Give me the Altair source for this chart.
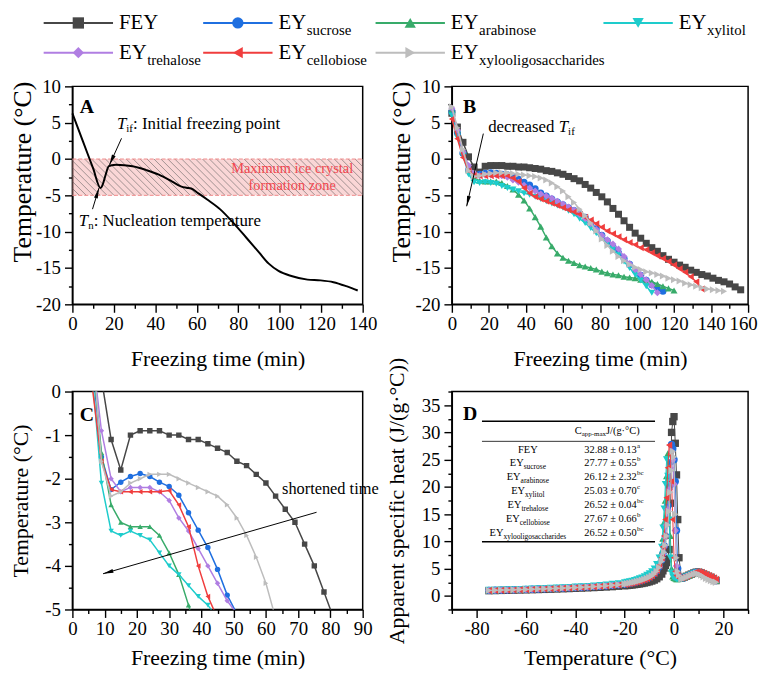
import math
import altair as alt
import pandas as pd

FONT = "Liberation Serif"

# ---------------- series identity ----------------
SERIES = ["FEY", "sucrose", "arabinose", "xylitol", "trehalose", "cellobiose", "xylooligosaccharides"]
COLORS = ["#474747", "#1f6fe0", "#38ab6a", "#1ecccc", "#b07ee2", "#f03d3d", "#bdbdbd"]
SHAPES = ["square", "circle", "triangle-up", "triangle-down", "diamond", "triangle-left", "triangle-right"]

# ---------------- panel A : FEY freezing curve ----------------
A_TIME = [0, 5, 10, 13.6, 14.5, 16, 17.5, 19, 21, 25, 29, 32, 35.4, 41.7, 47.9, 52.6, 55, 57.3,
          60.4, 65, 71.3, 77.5, 83.8, 90, 94.7, 99.4, 105.6, 113.4, 119.7, 125.9, 132.1, 137.6]
A_TEMP = [6.27, 2.5, -1.3, -4.0, -3.6, -2.2, -1.0, -0.85, -0.8, -0.85, -1.0, -1.2, -1.5, -2.15, -3.06, -3.8,
          -3.95, -4.06, -4.66, -5.57, -6.93, -8.75, -10.8, -12.85, -14.4, -15.4, -16.1, -16.6, -16.7,
          -16.95, -17.5, -18.1]

# ---------------- panels B / C : freezing curves (min, degC) ----------------
TIME = [0, 3, 6, 9, 12, 15, 18, 21, 24, 27, 30, 33, 36, 39, 42, 45, 48, 51, 54, 57, 60, 63, 66, 69,
        72, 75, 78, 81, 84, 87, 90, 93, 96, 99, 102, 105, 108, 111, 114, 117, 120, 123, 126, 129,
        132, 135, 138, 141, 144, 147, 150, 153, 156]
B_FEY = [6.3, 4.4, 2.3, 0.3, -1.1, -1.8, -1.0, -0.9, -0.9, -0.9,
         -1.0, -1.0, -1.1, -1.1, -1.2, -1.3, -1.4, -1.6, -1.7, -1.9,
         -2.1, -2.4, -2.7, -3.0, -3.5, -4.0, -4.6, -5.2, -5.9, -6.8,
         -7.6, -8.5, -9.4, -10.2, -10.9, -11.6, -12.2, -12.7, -13.3, -13.8,
         -14.2, -14.6, -14.9, -15.3, -15.6, -15.9, -16.1, -16.4, -16.7, -16.9,
         -17.2, -17.6, -18.0]
B_SUC = [6.5, 3.6, 0.8, -1.5, -2.25, -2.08, -1.95, -1.88, -1.95, -2.08,
         -2.18, -2.38, -2.78, -3.18, -3.58, -4.08, -4.67, -5.1, -5.5, -5.9,
         -6.3, -6.7, -7.1, -7.5, -8.0, -8.7, -9.6, -10.5, -11.3, -12.1,
         -12.9, -13.7, -14.5, -15.3, -16.0, -16.7, -17.3, -17.8, -18.2]
B_ARA = [6.8, 4.0, 1.0, -1.4, -2.6, -3.0, -3.1, -3.1, -3.1, -3.3,
         -3.7, -4.2, -4.9, -5.7, -6.8, -8.0, -9.3, -10.8, -12.0, -13.0,
         -13.6, -14.0, -14.3, -14.6, -14.8, -15.0, -15.2, -15.5, -15.7, -15.9,
         -16.0, -16.2, -16.3, -16.4, -16.6, -16.7, -16.9, -17.2, -17.5, -17.8,
         -18.1]
B_XYL = [6.0, 3.0, 0.5, -2.1, -3.2, -3.3, -3.2, -3.3, -3.4, -3.7,
         -4.0, -4.2, -4.45, -4.7, -4.9, -5.2, -5.5, -5.8, -6.1, -6.4,
         -6.7, -7.1, -7.6, -8.2, -8.8, -9.5, -10.2, -10.9, -11.6, -12.4,
         -13.2, -14.1, -15.0, -15.9, -16.7, -17.5, -18.4]
B_TRE = [7.0, 4.0, 1.0, -0.9, -2.0, -2.3, -2.2, -2.2, -2.2, -2.3,
         -2.5, -2.9, -3.2, -3.6, -4.0, -4.4, -4.8, -5.1, -5.4, -5.8,
         -6.2, -6.6, -7.0, -7.6, -8.2, -8.9, -9.7, -10.5, -11.1, -11.7,
         -12.4, -13.4, -14.4, -15.2, -15.9, -16.6, -17.4, -18.4]
B_CEL = [5.5, 2.8, 0.2, -1.6, -2.25, -2.3, -2.3, -2.3, -2.3, -2.3,
         -2.27, -2.6, -3.1, -4.0, -4.7, -5.2, -5.5, -5.8, -6.1, -6.4,
         -6.7, -7.0, -7.3, -7.6, -8.0, -8.4, -8.9, -9.4, -9.9, -10.3,
         -10.7, -11.1, -11.5, -11.8, -12.2, -12.5, -12.9, -13.3, -13.7, -14.1,
         -14.6, -15.1, -15.6, -16.2, -16.9, -17.9]
B_XOS = [7.2, 4.3, 1.3, -1.6, -2.4, -2.3, -2.1, -2.0, -1.9, -1.9,
         -1.9, -2.0, -2.1, -2.2, -2.3, -2.4, -2.6, -2.9, -3.3, -3.8,
         -4.4, -5.2, -6.0, -6.9, -7.8, -8.8, -9.9, -11.0, -11.9, -12.7,
         -13.4, -14.0, -14.5, -14.9, -15.2, -15.5, -15.7, -15.9, -16.1, -16.4,
         -16.6, -16.8, -17.1, -17.3, -17.5, -17.7, -17.9, -18.0, -18.1, -18.2]
B_VALUES = [B_FEY, B_SUC, B_ARA, B_XYL, B_TRE, B_CEL, B_XOS]

# ---------------- panel D : apparent specific heat ----------------
D_TEMP = [-75, -72.5, -70, -67.5, -65, -62.5, -60, -57.5, -55, -52.5, -50, -47.5, -45, -42.5, -40,
          -37.5, -35, -32.5, -30, -27.5, -25, -22.5, -20,
          -19, -18, -17, -16, -15, -14, -13, -12, -11, -10, -9, -8, -7, -6, -5,
          -4.5, -4, -3.5, -3, -2.5, -2, -1.5, -1, -0.5, 0, 0.5, 1, 1.5, 2,
          3, 4, 5, 6, 7, 8, 9, 10, 11, 12, 13, 14, 15, 16, 17]
D_FEY = [0.95, 0.97, 1.0, 1.02, 1.05, 1.08, 1.1, 1.13, 1.16, 1.19, 1.22, 1.26, 1.3, 1.34, 1.38, 1.42,
         1.47, 1.52, 1.57, 1.63, 1.69, 1.77, 1.86,
         1.9, 1.95, 2.0, 2.06, 2.12, 2.19, 2.27, 2.36, 2.46, 2.58, 2.72, 2.9, 3.15, 3.5, 4.0,
         4.6, 5.1, 5.6, 6.1, 6.8, 8.5, 17.0, 30.0, 32.0, 32.88, 28.0, 22.2, 14.0, 7.0,
         3.3, 3.4, 3.6, 3.8, 4.0, 4.2, 4.35, 4.35, 4.2, 4.0, 3.8, 3.6, 3.4, 3.1, 2.8]
D_SUC = [1.0, 1.03, 1.06, 1.09, 1.12, 1.15, 1.18, 1.22, 1.26, 1.3, 1.34, 1.38, 1.43, 1.48, 1.53, 1.58,
         1.64, 1.7, 1.77, 1.85, 1.94, 2.05, 2.18,
         2.25, 2.33, 2.42, 2.52, 2.63, 2.75, 2.89, 3.05, 3.23, 3.45, 3.72, 4.1, 4.6, 5.4, 6.6,
         7.8, 9.2, 11.0, 13.5, 16.5, 20.0, 24.5, 27.77, 27.0, 25.0, 21.0, 12.0, 5.0, 3.5,
         3.2, 3.3, 3.5, 3.7, 3.95, 4.15, 4.3, 4.3, 4.15, 3.95, 3.75, 3.55, 3.35, 3.1, 2.8]
D_ARA = [1.05, 1.08, 1.11, 1.14, 1.17, 1.2, 1.24, 1.28, 1.32, 1.36, 1.4, 1.45, 1.5, 1.55, 1.6, 1.66,
         1.72, 1.79, 1.87, 1.96, 2.06, 2.18, 2.32,
         2.4, 2.49, 2.59, 2.7, 2.82, 2.96, 3.12, 3.3, 3.52, 3.8, 4.15, 4.6, 5.3, 6.3, 8.0,
         10.5, 13.5, 17.5, 22.0, 26.12, 20.0, 11.0, 5.0, 3.6, 3.3, 3.2, 3.1, 3.1, 3.2,
         3.2, 3.3, 3.5, 3.7, 3.9, 4.1, 4.25, 4.25, 4.1, 3.9, 3.7, 3.5, 3.3, 3.05, 2.75]
D_XYL = [1.08, 1.11, 1.14, 1.17, 1.2, 1.24, 1.28, 1.32, 1.36, 1.4, 1.45, 1.5, 1.55, 1.61, 1.67, 1.73,
         1.8, 1.88, 1.97, 2.07, 2.18, 2.3, 2.45,
         2.55, 2.65, 2.76, 2.88, 3.02, 3.18, 3.36, 3.57, 3.82, 4.12, 4.5, 5.0, 5.8, 7.0, 9.0,
         12.5, 16.0, 20.5, 25.03, 22.0, 14.0, 7.0, 4.2, 3.5, 3.3, 3.2, 3.1, 3.1, 3.2,
         3.2, 3.3, 3.5, 3.7, 3.9, 4.1, 4.25, 4.25, 4.1, 3.9, 3.7, 3.5, 3.3, 3.05, 2.75]
D_TRE = [1.0, 1.02, 1.05, 1.08, 1.11, 1.14, 1.17, 1.21, 1.25, 1.29, 1.33, 1.37, 1.42, 1.47, 1.52, 1.57,
         1.63, 1.69, 1.76, 1.84, 1.93, 2.03, 2.15,
         2.22, 2.3, 2.39, 2.49, 2.6, 2.72, 2.86, 3.02, 3.2, 3.42, 3.7, 4.08, 4.6, 5.4, 6.6,
         7.6, 9.0, 10.8, 13.0, 15.8, 19.5, 23.5, 26.52, 25.0, 20.5, 12.0, 5.5, 4.0, 3.5,
         3.2, 3.3, 3.5, 3.7, 3.9, 4.1, 4.25, 4.25, 4.1, 3.9, 3.7, 3.5, 3.3, 3.05, 2.75]
D_CEL = [0.98, 1.0, 1.03, 1.06, 1.09, 1.12, 1.15, 1.19, 1.23, 1.27, 1.31, 1.35, 1.4, 1.45, 1.5, 1.55,
         1.61, 1.67, 1.74, 1.82, 1.91, 2.01, 2.13,
         2.2, 2.28, 2.37, 2.47, 2.58, 2.7, 2.84, 3.0, 3.19, 3.42, 3.72, 4.12, 4.7, 5.6, 7.0,
         9.0, 11.0, 14.0, 18.0, 23.5, 27.67, 26.0, 21.0, 14.0, 7.0, 4.5, 3.8, 3.5, 3.3,
         3.3, 3.4, 3.6, 3.8, 4.0, 4.2, 4.4, 4.4, 4.3, 4.1, 3.9, 3.7, 3.5, 3.3, 3.0]
D_XOS = [1.0, 1.03, 1.06, 1.09, 1.12, 1.15, 1.18, 1.22, 1.26, 1.3, 1.34, 1.38, 1.43, 1.48, 1.53, 1.58,
         1.64, 1.7, 1.77, 1.85, 1.94, 2.05, 2.18,
         2.25, 2.33, 2.42, 2.52, 2.63, 2.75, 2.88, 3.03, 3.2, 3.4, 3.65, 4.0, 4.5, 5.2, 6.3,
         7.0, 8.0, 9.3, 11.0, 13.0, 15.5, 19.0, 23.0, 26.52, 25.5, 15.0, 7.0, 4.5, 3.8,
         3.1, 3.2, 3.4, 3.6, 3.8, 4.0, 4.1, 4.0, 3.8, 3.5, 3.2, 3.0, 2.8, 2.6, 2.5]
D_VALUES = [D_FEY, D_SUC, D_ARA, D_XYL, D_TRE, D_CEL, D_XOS]

# table in panel D
CAPP_MAX = [32.88, 27.77, 26.12, 25.03, 26.52, 27.67, 26.52]
CAPP_SD = [0.13, 0.55, 2.32, 0.70, 0.04, 0.66, 0.50]
CAPP_GROUP = ["a", "b", "bc", "c", "bc", "b", "bc"]

# ---------------- layout ----------------
WA, WB, H = 293, 299, 220
COL_GAP, ROW_GAP = 90, 88
LEG_W, LEG_H, LEG_GAP = WA + COL_GAP + WB, 50, 26
LEG_X = [6, 167, 341, 571]
LEG_Y = [12, 42]
LEG_POS = [(0, 0), (1, 0), (2, 0), (3, 0), (0, 1), (1, 1), (2, 1)]
ARROW_HEAD = "M0,-1L0.38,1L-0.38,1Z"

# Times-like glyph widths (per 1000 em) for composing sub/superscripts
CW = {' ': 250, '(': 333, ')': 333, '-': 333, '.': 250, '/': 278, ':': 278, '±': 564, '°': 400, '·': 250,
      'A': 722, 'C': 667, 'E': 611, 'F': 556, 'I': 333, 'J': 389, 'M': 889, 'N': 722, 'T': 611, 'Y': 722,
      'a': 444, 'b': 500, 'c': 444, 'd': 500, 'e': 444, 'f': 333, 'g': 500, 'h': 500, 'i': 278, 'l': 278,
      'm': 778, 'n': 500, 'o': 500, 'p': 500, 'r': 333, 's': 389, 't': 278, 'u': 500, 'x': 500, 'y': 500,
      'z': 444}


def tw(s, size, italic=False):
    w = 0
    for ch in s:
        if italic and ch == 'T':
            w += 556
        else:
            w += CW.get(ch, 500)
    return w / 1000.0 * size


def ticks(lo, hi, step):
    n = int(round((hi - lo) / step))
    return [round(lo + i * step, 4) for i in range(n + 1)]


def make_axis(lo, hi, minor, major, title, tsize, lpad, tpad, **extra):
    is_major = f"abs(datum.value % {major}) < 0.0001"
    kw = dict(values=ticks(lo, hi, minor), title=title, titleFontSize=tsize,
              labelPadding=lpad, titlePadding=tpad,
              labelExpr=f"{is_major} ? '' + datum.value : ''",
              tickSize={"condition": {"test": f"!({is_major})", "value": 4}, "value": 8},
              labelOverlap=False, labelFlush=False,
              labelFont=FONT, titleFont=FONT, labelFontSize=19, titleFontWeight='normal',
              labelColor='black', titleColor='black')
    kw.update(extra)
    return alt.Axis(**kw)


class Panel:
    def __init__(self, xdom, ydom, W, Hh, xaxis, yaxis):
        self.xs = alt.Scale(domain=xdom, nice=False, zero=False)
        self.ys = alt.Scale(domain=ydom, nice=False, zero=False)
        self.xaxis, self.yaxis = xaxis, yaxis
        self.sx = W / (xdom[1] - xdom[0])
        self.sy = Hh / (ydom[1] - ydom[0])
        self.W, self.H = W, Hh
        self.layers = []

    def X(self):
        return alt.X('x:Q', scale=self.xs, axis=self.xaxis)

    def Y(self):
        return alt.Y('y:Q', scale=self.ys, axis=self.yaxis)

    def series(self, xs, ys, idx, size, lw, clip=False):
        df = pd.DataFrame({'x': xs, 'y': ys})
        self.layers.append(alt.Chart(df).mark_line(color=COLORS[idx], strokeWidth=lw, clip=clip)
                           .encode(x=self.X(), y=self.Y()))
        self.layers.append(alt.Chart(df).mark_point(shape=SHAPES[idx], filled=True, color=COLORS[idx],
                                                    size=size, opacity=1, clip=clip)
                           .encode(x=self.X(), y=self.Y()))

    def rich(self, x, y, parts, align='left', color='black', main_only=False):
        # parts: (text, size, style, weight, dy)
        if main_only:
            total = tw(parts[0][0], parts[0][1])
        else:
            total = sum(tw(p[0], p[1], p[2] == 'italic') for p in parts)
        cur = {'left': 0.0, 'center': -total / 2.0, 'right': -total}[align]
        for text, size, style, weight, dy in parts:
            df = pd.DataFrame({'x': [x], 'y': [y], 'label': [text]})
            self.layers.append(
                alt.Chart(df).mark_text(align='left', baseline='middle', dx=cur, dy=dy,
                                        font=FONT, fontSize=size, fontStyle=style,
                                        fontWeight=weight, color=color)
                .encode(x=self.X(), y=self.Y(), text='label:N'))
            cur += tw(text, size, style == 'italic')

    def arrow(self, x1, y1, x2, y2, head=110, lw=1):
        df = pd.DataFrame({'x': [x1], 'y': [y1], 'x2': [x2], 'y2': [y2]})
        self.layers.append(alt.Chart(df).mark_rule(color='black', strokeWidth=lw)
                           .encode(x=self.X(), y=self.Y(), x2='x2:Q', y2='y2:Q'))
        dxp = (x2 - x1) * self.sx
        dyp = -(y2 - y1) * self.sy
        L = math.hypot(dxp, dyp)
        ang = math.degrees(math.atan2(dxp, -dyp)) % 360
        r = math.sqrt(head) / 2.0
        hx = x2 - dxp / L * r / self.sx
        hy = y2 + dyp / L * r / self.sy
        self.layers.append(alt.Chart(pd.DataFrame({'x': [hx], 'y': [hy]}))
                           .mark_point(shape=ARROW_HEAD, filled=True, color='black', size=head,
                                       angle=ang, opacity=1, strokeWidth=0)
                           .encode(x=self.X(), y=self.Y()))

    def chart(self):
        return alt.layer(*self.layers).properties(width=self.W, height=self.H)


# ---------------- Panel A ----------------
pa = Panel([0, 140], [-20, 10], WA, H,
           make_axis(0, 140, 10, 20, "Freezing time (min)", 22, 2, 16),
           make_axis(-20, 10, 2.5, 5, "Temperature (°C)", 26, 4, 0, titleY=86))
pa.layers.append(alt.Chart(pd.DataFrame({'x': [0], 'x2': [140], 'y': [0], 'y2': [-5]}))
                 .mark_rect(color="#f5b5b5", opacity=0.55)
                 .encode(x=pa.X(), x2='x2:Q', y=pa.Y(), y2='y2:Q'))
h_step = 7.0 / pa.sx
h_run = 5 * pa.sy / pa.sx
n_h = int((140 + h_run) / h_step) + 1
h_start = [-h_run + i * h_step for i in range(n_h)]
pa.layers.append(alt.Chart(pd.DataFrame({'x': h_start, 'x2': [s + h_run for s in h_start],
                                         'y': [0] * n_h, 'y2': [-5] * n_h}))
                 .mark_rule(color="#5a5a5a", strokeWidth=0.7, opacity=0.8, clip=True)
                 .encode(x=pa.X(), x2='x2:Q', y=pa.Y(), y2='y2:Q'))
pa.layers.append(alt.Chart(pd.DataFrame({'x': [0, 0], 'x2': [140, 140], 'y': [0, -5]}))
                 .mark_rule(color="#f08c8c", strokeWidth=1, strokeDash=[4, 2])
                 .encode(x=pa.X(), x2='x2:Q', y=pa.Y()))
pa.layers.append(alt.Chart(pd.DataFrame({'x': A_TIME, 'y': A_TEMP}))
                 .mark_line(color='black', strokeWidth=2, interpolate='monotone')
                 .encode(x=pa.X(), y=pa.Y()))
pa.rich(106, -1.4, [("Maximum ice crystal", 14.5, 'normal', 'normal', 0)], align='center', color="#f0474f")
pa.rich(106, -3.75, [("formation zone", 14.5, 'normal', 'normal', 0)], align='center', color="#f0474f")
pa.rich(3.6, 7.2, [("A", 20, 'normal', 'bold', 0)])
pa.rich(21.5, 4.8, [("T", 17, 'italic', 'normal', 0), ("if", 11, 'normal', 'normal', 5),
                    (": Initial freezing point", 17, 'normal', 'normal', 0)])
pa.rich(3.1, -8.5, [("T", 17, 'italic', 'normal', 0), ("n", 11, 'normal', 'normal', 5),
                    (": Nucleation temperature", 17, 'normal', 'normal', 0)])
pa.arrow(23.7, 2.85, 17.9, -0.8)
pa.arrow(9.7, -6.9, 12.8, -4.0)

# ---------------- Panel B ----------------
pb = Panel([0, 160], [-20, 10], WB, H,
           make_axis(0, 160, 10, 20, "Freezing time (min)", 22, 2, 16,
                     labelOffset={"condition": {"test": "datum.value === 160", "value": -5}, "value": 0}),
           make_axis(-20, 10, 2.5, 5, "Temperature (°C)", 26, 4, 0, titleY=86))
for i, vals in enumerate(B_VALUES):
    pb.series(TIME[:len(vals)], vals, i, 50, 1.5)
pb.rich(6.0, 7.2, [("B", 20, 'normal', 'bold', 0)])
pb.rich(19.6, 4.45, [("decreased ", 17, 'normal', 'normal', 0), ("T", 17, 'italic', 'normal', 0),
                     ("if", 11, 'normal', 'normal', 5)])
pb.arrow(17.0, 3.5, 8.0, -6.5)

# ---------------- Panel C ----------------
pc = Panel([0, 90], [-5, 0], WA, H,
           make_axis(0, 90, 5, 10, "Freezing time (min)", 22, 2, 10),
           make_axis(-5, 0, 0.5, 1, "Temperature (°C)", 22, 4, 12))
for i, vals in enumerate(B_VALUES):
    pc.series(TIME[:len(vals)], vals, i, 30, 1.5, clip=True)
pc.rich(2.3, -0.55, [("C", 20, 'normal', 'bold', 0)])
pc.rich(65.0, -2.24, [("shortened time", 16.5, 'normal', 'normal', 0)])
pc.arrow(75.7, -2.77, 9.5, -4.18)

# ---------------- Panel D ----------------
pd_ = Panel([-90, 30], [-2.5, 37.5], WB, H,
            make_axis(-90, 30, 10, 20, "Temperature (°C)", 22, 2, 10),
            make_axis(-2.5, 37.5, 2.5, 5, "Apparent specific heat (J/(g·°C))", 22, 4, 13))
for i, vals in enumerate(D_VALUES):
    pd_.series(D_TEMP, vals, i, 55, 1)
pd_.rich(-85.5, 33.4, [("D", 20, 'normal', 'bold', 0)])
pd_.layers.append(alt.Chart(pd.DataFrame({'x': [-77.8, -77.8, -77.8], 'x2': [-7.7, -7.7, -7.7],
                                          'y': [32.05, 28.36, 9.95], 'w': [1.5, 0.8, 1.5]}))
                  .mark_rule(color='black')
                  .encode(x=pd_.X(), x2='x2:Q', y=pd_.Y(),
                          strokeWidth=alt.StrokeWidth('w:Q', scale=None, legend=None)))
pd_.rich(-40.2, 30.2, [("C", 10.5, 'normal', 'normal', 0), ("app-max", 7, 'normal', 'normal', 3),
                       (" J/(g·°C)", 10.5, 'normal', 'normal', 0)])
ROW_Y = [26.85, 24.3, 21.75, 19.2, 16.65, 14.1, 11.55]
for i, name in enumerate(SERIES):
    if name == "FEY":
        parts = [("FEY", 10.5, 'normal', 'normal', 0)]
    else:
        parts = [("EY", 10.5, 'normal', 'normal', 0), (name, 7.5, 'normal', 'normal', 4)]
    pd_.rich(-59.2, ROW_Y[i], parts, align='center')
    main = f"{CAPP_MAX[i]:.2f} ± {CAPP_SD[i]:.2f}"
    pd_.rich(-25.7, ROW_Y[i], [(main, 10.5, 'normal', 'normal', 0),
                                (CAPP_GROUP[i], 7, 'normal', 'normal', -4)],
             align='center', main_only=True)

# ---------------- legend ----------------
leg = pd.DataFrame({
    's': SERIES,
    'x': [LEG_X[c] for c, r in LEG_POS],
    'y': [LEG_Y[r] for c, r in LEG_POS],
})
leg['xa'] = leg['x'] - 35
leg['xb'] = leg['x'] + 35
leg['main'] = ["FEY" if s == "FEY" else "EY" for s in SERIES]
leg['sub'] = ["" if s == "FEY" else s for s in SERIES]
LXS = alt.Scale(domain=[0, LEG_W], range=[0, LEG_W], nice=False, zero=False)
LX = alt.X('x:Q', scale=LXS, axis=None)
LY = alt.Y('y:Q', scale=alt.Scale(domain=[0, LEG_H], range=[0, LEG_H], nice=False, zero=False), axis=None)
cscale = alt.Scale(domain=SERIES, range=COLORS)
sscale = alt.Scale(domain=SERIES, range=SHAPES)
legend = alt.layer(
    alt.Chart(leg).mark_rule(strokeWidth=2).encode(
        x=alt.X('xa:Q', scale=LXS, axis=None), x2='xb:Q', y=LY,
        color=alt.Color('s:N', scale=cscale, legend=None)),
    alt.Chart(leg).mark_point(filled=True, opacity=1, size=130).encode(
        x=LX, y=LY, color=alt.Color('s:N', scale=cscale, legend=None),
        shape=alt.Shape('s:N', scale=sscale, legend=None)),
    alt.Chart(leg).mark_text(align='left', baseline='middle', dx=41, font=FONT, fontSize=21,
                             color='black').encode(x=LX, y=LY, text='main:N'),
    alt.Chart(leg).mark_text(align='left', baseline='middle', dx=41 + tw("EY", 21) + 0.5, dy=7,
                             font=FONT, fontSize=15, color='black').encode(x=LX, y=LY, text='sub:N'),
).properties(width=LEG_W, height=LEG_H, view=alt.ViewBackground(strokeOpacity=0))

grid = alt.concat(pa.chart(), pb.chart(), pc.chart(), pd_.chart(), columns=2,
                  spacing={"row": ROW_GAP, "column": COL_GAP}, bounds='flush')

chart = alt.vconcat(legend, grid, spacing=LEG_GAP, bounds='flush').properties(
    padding={"left": 0, "top": 0, "right": 0, "bottom": 0}
).configure_axis(
    labelFont=FONT, titleFont=FONT, labelFontSize=19, titleFontWeight='normal',
    labelColor='black', titleColor='black', domainColor='black', tickColor='black',
    domainWidth=1.4, tickWidth=1.4, grid=False
).configure_view(stroke='black', strokeWidth=1.5)

chart.save("out.html", embed_options={"renderer": "svg", "actions": False})
